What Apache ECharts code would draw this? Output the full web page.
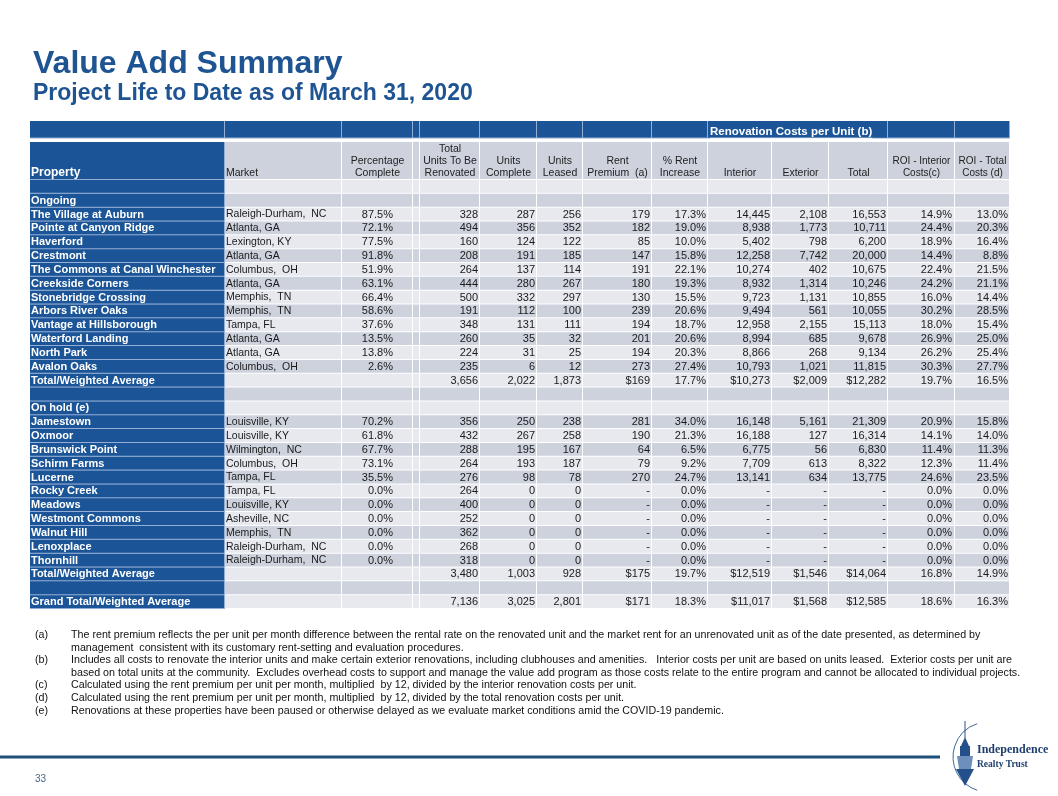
<!DOCTYPE html>
<html><head><meta charset="utf-8">
<script src="https://cdn.jsdelivr.net/npm/echarts/dist/echarts.min.js"></script>
<style>html,body{margin:0;padding:0;background:#fff}#c{width:1058px;height:796px}</style>
</head><body><div id="c"></div>
<script>
// ---------------- DATA ----------------
const E = '';
const columnHeaders = ['Property','Market','Percentage\nComplete','','Total\nUnits To Be\nRenovated','Units\nComplete','Units\nLeased','Rent\nPremium  (a)','% Rent\nIncrease','Interior','Exterior','Total','ROI - Interior\nCosts(c)','ROI - Total\nCosts (d)'];
const groupHeader = 'Renovation Costs per Unit (b)';

const rowLabels = ['', 'Ongoing',
  'The Village at Auburn','Pointe at Canyon Ridge','Haverford','Crestmont','The Commons at Canal Winchester','Creekside Corners','Stonebridge Crossing','Arbors River Oaks','Vantage at Hillsborough','Waterford Landing','North Park','Avalon Oaks',
  'Total/Weighted Average', '', 'On hold (e)',
  'Jamestown','Oxmoor','Brunswick Point','Schirm Farms','Lucerne','Rocky Creek','Meadows','Westmont Commons','Walnut Hill','Lenoxplace','Thornhill',
  'Total/Weighted Average', '', 'Grand Total/Weighted Average'];
const rowKinds = ['blank','section',
  'item','item','item','item','item','item','item','item','item','item','item','item',
  'total','blank','section',
  'item','item','item','item','item','item','item','item','item','item','item',
  'total','blank','total'];
const markets = [E,E,'Raleigh-Durham,  NC','Atlanta, GA','Lexington, KY','Atlanta, GA','Columbus,  OH','Atlanta, GA','Memphis,  TN','Memphis,  TN','Tampa, FL','Atlanta, GA','Atlanta, GA','Columbus,  OH',E,E,E,
  'Louisville, KY','Louisville, KY','Wilmington,  NC','Columbus,  OH','Tampa, FL','Tampa, FL','Louisville, KY','Asheville, NC','Memphis,  TN','Raleigh-Durham,  NC','Raleigh-Durham,  NC',E,E,E];
const pctComplete = [E,E,87.5,72.1,77.5,91.8,51.9,63.1,66.4,58.6,37.6,13.5,13.8,2.6,E,E,E,70.2,61.8,67.7,73.1,35.5,0,0,0,0,0,0,E,E,E];
const totalUnits = [E,E,328,494,160,208,264,444,500,191,348,260,224,235,3656,E,E,356,432,288,264,276,264,400,252,362,268,318,3480,E,7136];
const unitsComplete = [E,E,287,356,124,191,137,280,332,112,131,35,31,6,2022,E,E,250,267,195,193,98,0,0,0,0,0,0,1003,E,3025];
const unitsLeased = [E,E,256,352,122,185,114,267,297,100,111,32,25,12,1873,E,E,238,258,167,187,78,0,0,0,0,0,0,928,E,2801];
const rentPremium = [E,E,179,182,85,147,191,180,130,239,194,201,194,273,169,E,E,281,190,64,79,270,null,null,null,null,null,null,175,E,171];
const rentIncrease = [E,E,17.3,19.0,10.0,15.8,22.1,19.3,15.5,20.6,18.7,20.6,20.3,27.4,17.7,E,E,34.0,21.3,6.5,9.2,24.7,0,0,0,0,0,0,19.7,E,18.3];
const interiorCost = [E,E,14445,8938,5402,12258,10274,8932,9723,9494,12958,8994,8866,10793,10273,E,E,16148,16188,6775,7709,13141,null,null,null,null,null,null,12519,E,11017];
const exteriorCost = [E,E,2108,1773,798,7742,402,1314,1131,561,2155,685,268,1021,2009,E,E,5161,127,56,613,634,null,null,null,null,null,null,1546,E,1568];
const totalCost = [E,E,16553,10711,6200,20000,10675,10246,10855,10055,15113,9678,9134,11815,12282,E,E,21309,16314,6830,8322,13775,null,null,null,null,null,null,14064,E,12585];
const roiInterior = [E,E,14.9,24.4,18.9,14.4,22.4,24.2,16.0,30.2,18.0,26.9,26.2,30.3,19.7,E,E,20.9,14.1,11.4,12.3,24.6,0,0,0,0,0,0,16.8,E,18.6];
const roiTotal = [E,E,13.0,20.3,16.4,8.8,21.5,21.1,14.4,28.5,15.4,25.0,25.4,27.7,16.5,E,E,15.8,14.0,11.3,11.4,23.5,0,0,0,0,0,0,14.9,E,16.3];

const footnoteLabels = ['(a)','','(b)','','(c)','(d)','(e)'];
const footnoteLines = [
  'The rent premium reflects the per unit per month difference between the rental rate on the renovated unit and the market rent for an unrenovated unit as of the date presented, as determined by',
  'management  consistent with its customary rent-setting and evaluation procedures.',
  'Includes all costs to renovate the interior units and make certain exterior renovations, including clubhouses and amenities.   Interior costs per unit are based on units leased.  Exterior costs per unit are',
  'based on total units at the community.  Excludes overhead costs to support and manage the value add program as those costs relate to the entire program and cannot be allocated to individual projects.',
  'Calculated using the rent premium per unit per month, multiplied  by 12, divided by the interior renovation costs per unit.',
  'Calculated using the rent premium per unit per month, multiplied  by 12, divided by the total renovation costs per unit.',
  'Renovations at these properties have been paused or otherwise delayed as we evaluate market conditions amid the COVID-19 pandemic.'
];
const titleText = 'Value Add Summary';
const subtitleText = 'Project Life to Date as of March 31, 2020';
const pageNumber = '33';

// ---------------- LAYOUT / STYLE ----------------
const colValues = [rowLabels, markets, pctComplete, null, totalUnits, unitsComplete, unitsLeased, rentPremium, rentIncrease, interiorCost, exteriorCost, totalCost, roiInterior, roiTotal];
const colFormats = ['label','text','pct','none','int','int','int','money','pct','money','money','money','pct','pct'];
const colEdges = [0,195,312,383,390,450,507,553,622,678,742,799,858,925,980];
const colAlign = ['left','left','right','right','right','right','right','right','right','right','right','right','right','right'];
const colPad = [1,1,20,0,2,2,2,2,2,2,2,2,3,2];
const headerFontSize = [12,10.5,10.5,10.5,10.5,10.5,10.5,10.5,10.5,10.5,10.5,10.5,10,10];
const Y_TOP = [-4.26, -3.0];
const Y_HEAD = [-2.75, 0];
const SPAN_COLS = [9, 12];

const FONT = '"Liberation Sans", Arial, sans-serif';
const BLUE = '#1B5597';
const TITLE_BLUE = '#1F5493';
const GRAY_D = '#CDD2DD';
const GRAY_L = '#E7E9EF';
const TEXT = '#1a1a1a';

function commas(n){ const s = String(Math.round(Math.abs(n))); return (n<0?'-':'') + s.replace(/\B(?=(\d{3})+(?!\d))/g, ','); }
function fmt(v, kind, rowKind){
  if (kind === 'none' || v === E || v === undefined) return '';
  if (v === null) return '-';
  if (kind === 'pct') return v.toFixed(1) + '%';
  if (kind === 'int') return commas(v);
  if (kind === 'money') return (rowKind === 'total' ? '$' : '') + commas(v);
  return String(v);
}
function textEl(text, x, y, align, vAlign, font, fill, lineHeight){
  const st = {text, fill, font, align, verticalAlign: vAlign, textAlign: align, textVerticalAlign: vAlign};
  if (lineHeight) { st.lineHeight = lineHeight; }
  return {type:'text', x, y, style: st, silent: true};
}
const measureCtx = document.createElement('canvas').getContext('2d');
function textWidth(t, font){ measureCtx.font = font; return measureCtx.measureText(t).width; }

// cells: [col, row]; row -2 = top band, -1 = column headers, -3 = spanning group label
const cellData = [];
for (let r = -2; r < rowLabels.length; r++) {
  for (let c = 0; c < columnHeaders.length; c++) cellData.push([c, r]);
}
cellData.push([SPAN_COLS[0], -3]);

function renderCell(params, api){
  const c = api.value(0), r = api.value(1);
  const children = [];
  if (r === -3) {
    const a = api.coord([colEdges[SPAN_COLS[0]], Y_TOP[0]]);
    const b = api.coord([colEdges[SPAN_COLS[1]], Y_TOP[1]]);
    children.push({type:'rect', shape:{x:a[0], y:a[1], width:b[0]-a[0]-1, height:b[1]-a[1]-1}, style:{fill:BLUE}});
    const f = 'bold 11.5px ' + FONT;
    const w = textWidth(groupHeader, f);
    const cy = (a[1] + b[1]) / 2 + 2;
    children.push(textEl(groupHeader, a[0] + 2, cy, 'left', 'middle', f, '#ffffff'));
    children.push({type:'rect', shape:{x:a[0] + 2, y:cy + 6, width:w, height:1}, style:{fill:'#ffffff'}});
    return {type:'group', children};
  }
  let y0, y1;
  if (r === -2) { y0 = Y_TOP[0]; y1 = Y_TOP[1]; }
  else if (r === -1) { y0 = Y_HEAD[0]; y1 = Y_HEAD[1]; }
  else { y0 = r; y1 = r + 1; }
  const p0 = api.coord([colEdges[c], y0]);
  const p1 = api.coord([colEdges[c + 1], y1]);
  const x = p0[0], y = p0[1], w = p1[0] - p0[0], h = p1[1] - p0[1];
  const blueCell = (r === -2 || c === 0);
  let fill;
  if (blueCell) fill = BLUE;
  else if (r === -1) fill = GRAY_D;
  else fill = (r % 2 === 1) ? GRAY_D : GRAY_L;
  children.push({type:'rect', shape:{x, y, width:w, height:h}, style:{fill: blueCell ? '#93AED6' : '#ffffff'}});
  children.push({type:'rect', shape:{x, y, width:w - 1, height:h - 1}, style:{fill}});

  if (r === -1) {
    const txt = columnHeaders[c];
    if (c === 0) {
      children.push(textEl(txt, x + 1, y + h - 7, 'left', 'middle', 'bold ' + headerFontSize[c] + 'px ' + FONT, '#ffffff'));
    } else if (c === 1) {
      children.push(textEl(txt, x + 1, y + h - 1, 'left', 'bottom', headerFontSize[c] + 'px ' + FONT, '#222222', 12));
    } else if (txt) {
      children.push(textEl(txt, x + w / 2, y + h - 1, 'center', 'bottom', headerFontSize[c] + 'px ' + FONT, '#222222', 12));
    }
  } else if (r >= 0) {
    const cy = y + h / 2;
    if (c === 0) {
      if (rowLabels[r]) children.push(textEl(rowLabels[r], x + colPad[0], cy, 'left', 'middle', 'bold 11px ' + FONT, '#ffffff'));
    } else {
      const vals = colValues[c];
      const s = vals ? fmt(vals[r], colFormats[c], rowKinds[r]) : '';
      if (s) {
        const tx = colAlign[c] === 'left' ? x + colPad[c] : x + w - colPad[c];
        const size = colFormats[c] === 'text' ? 10.5 : 11;
        children.push(textEl(s, tx, cy, colAlign[c], 'middle', size + 'px ' + FONT, TEXT));
      }
    }
  }
  return {type:'group', children};
}

// ---------------- DECORATION (footnotes, footer) ----------------
const graphics = [];
const fnTop = 635, fnStep = 12.6;
const FN_FONT = '10.7px ' + FONT;
footnoteLines.forEach((line, i) => {
  const yy = fnTop + i * fnStep;
  if (footnoteLabels[i]) graphics.push({type:'text', x:35, y:yy, silent:true, style:{text:footnoteLabels[i], font:FN_FONT, fill:'#111', verticalAlign:'middle', textVerticalAlign:'middle'}});
  graphics.push({type:'text', x:71, y:yy, silent:true, style:{text:line, font:FN_FONT, fill:'#111', verticalAlign:'middle', textVerticalAlign:'middle'}});
});
graphics.push({type:'rect', silent:true, shape:{x:0, y:755.5, width:940, height:3}, style:{fill:'#1F4E79'}});
graphics.push({type:'text', x:35, y:779, silent:true, style:{text:pageNumber, font:'10px ' + FONT, fill:'#4a6585', verticalAlign:'middle', textVerticalAlign:'middle'}});
// logo
graphics.push({type:'arc', silent:true, shape:{cx:988, cy:757, r:35, startAngle:Math.PI*0.6, endAngle:Math.PI*1.4}, style:{stroke:'#3d6897', lineWidth:1, fill:null}});
graphics.push({type:'line', silent:true, shape:{x1:965, y1:721, x2:965, y2:738}, style:{stroke:'#2a5286', lineWidth:1}});
graphics.push({type:'polygon', silent:true, shape:{points:[[961,746],[965,737],[969,746]]}, style:{fill:'#23508a'}});
graphics.push({type:'rect', silent:true, shape:{x:960, y:746, width:10, height:10}, style:{fill:'#23508a'}});
graphics.push({type:'polygon', silent:true, shape:{points:[[957,756],[973,756],[971,769],[959,769]]}, style:{fill:'#6d8fbb'}});
graphics.push({type:'polygon', silent:true, shape:{points:[[956,769],[974,769],[965,786]]}, style:{fill:'#23508a'}});
graphics.push({type:'text', x:977, y:750, silent:true, style:{text:'Independence', font:'bold 12px "Liberation Serif", "DejaVu Serif", serif', fill:'#1f3f6e', verticalAlign:'middle', textVerticalAlign:'middle'}});
graphics.push({type:'text', x:977, y:765, silent:true, style:{text:'Realty Trust', font:'bold 9.5px "Liberation Serif", "DejaVu Serif", serif', fill:'#1f3f6e', verticalAlign:'middle', textVerticalAlign:'middle'}});

const chart = echarts.init(document.getElementById('c'), null, {renderer:'canvas'});
chart.setOption({
  animation: false,
  backgroundColor: '#ffffff',
  title: {
    text: titleText, subtext: subtitleText, left: 33, top: 48, padding: 0, itemGap: 3,
    textStyle: {fontFamily: FONT, fontWeight: 'bold', fontSize: 32, lineHeight: 32, color: TITLE_BLUE},
    subtextStyle: {fontFamily: FONT, fontWeight: 'bold', fontSize: 23, lineHeight: 22, color: TITLE_BLUE}
  },
  grid: {left: 30, top: 121, width: 980, height: 488, containLabel: false},
  xAxis: {type: 'value', min: 0, max: 980, show: false},
  yAxis: {type: 'value', inverse: true, min: -4.26, max: 31, show: false},
  series: [{
    type: 'custom', coordinateSystem: 'cartesian2d', silent: true, clip: false,
    renderItem: renderCell, data: cellData, encode: {x: 0, y: 1}
  }],
  graphic: graphics
});
</script>
</body></html>
